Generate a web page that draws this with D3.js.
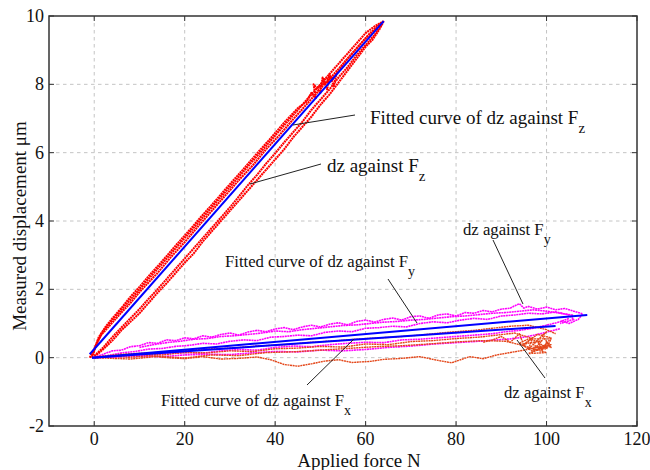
<!DOCTYPE html>
<html>
<head>
<meta charset="UTF-8">
<script src="https://d3js.org/d3.v7.min.js"></script>
<style>
  body { margin: 0; background: #fff; }
  svg text { font-family: "Liberation Serif", "Times New Roman", Times, serif; }
  .grid line { stroke: #c4c4c4; stroke-dasharray: 3.5,3.5; stroke-width: 1; }
  .trace { fill: none; stroke-dasharray: 2,0.6; stroke-linejoin: round; }
  .fit { fill: none; stroke: #0000ff; stroke-width: 2; }
  .leader { stroke: #222; stroke-width: 1; }
  .note { font-size: 16.7px; fill: #111; }
  .note.big { font-size: 19px; }
  .tick-label { font-size: 18px; fill: #111; }
  .axis-label { font-size: 19px; fill: #111; }
</style>
</head>
<body>
<div id="chart"></div>
<script>
// ticks
var xTicks = [0, 20, 40, 60, 80, 100, 120];
var yTicks = [-2, 0, 2, 4, 6, 8, 10];

// dz against Fz (red) - loading / unloading passes, [force N, dz um]
var fzTraceA = [[-1,0],[0,0.25],[1,0.55],[2,0.78],[3,0.95],[5,1.25],[7,1.55],[9,1.85],[11,2.15],[13,2.45],[16,2.9],[19,3.35],[22,3.8],[25,4.25],[28,4.7],[31,5.15],[34,5.6],[37,6.05],[40,6.5],[43,6.95],[46,7.4],[48,7.7],[50,8.0],[52,8.3],[54,8.6],[56,8.9],[58,9.2],[60,9.5],[62,9.7],[64,9.85]];
var fzTraceB = [[-0.5,0.05],[1,0.6],[2.5,0.9],[4,1.15],[6,1.45],[8,1.78],[10,2.07],[12,2.38],[15,2.82],[18,3.28],[21,3.72],[24,4.18],[27,4.62],[30,5.08],[33,5.52],[36,5.98],[39,6.42],[42,6.88],[45,7.3],[47,7.5],[48,7.75],[49,7.6],[48.5,8.0],[50,7.75],[50.5,8.2],[51.5,7.85],[52,8.3],[53,7.95],[53.5,8.3],[52.5,8.1],[51,8.05],[49.5,7.9],[51,8.15],[53,8.2],[54,8.4],[56,8.75],[58,9.05],[60,9.35],[62,9.6],[63.5,9.8]];
var fzTraceC = [[64,9.85],[63,9.6],[61.5,9.3],[60,9.1],[58,8.75],[56,8.4],[54,8.05],[52,7.7],[50,7.4],[48,7.05],[46,6.75],[44,6.45],[42,6.1],[40,5.8],[38,5.5],[36,5.2],[34,4.9],[32,4.6],[30,4.3],[28,4.0],[26,3.7],[24,3.4],[22,3.05],[20,2.78],[18,2.48],[16,2.18],[14,1.9],[12,1.6],[10,1.3],[8,1.05],[6,0.8],[4,0.5],[2,0.25],[0,0.02]];
var fzTraceD = [[63.5,9.75],[62,9.45],[60,9.15],[58,8.85],[56,8.5],[54,8.2],[52,7.85],[50,7.55],[48,7.25],[46,6.9],[44,6.6],[42,6.3],[40,5.98],[38,5.68],[36,5.35],[34,5.05],[32,4.72],[30,4.4],[28,4.1],[26,3.8],[24,3.5],[22,3.2],[20,2.9],[18,2.6],[16,2.3],[14,2.0],[12,1.72],[10,1.42],[8,1.15],[6,0.88],[4,0.6],[2,0.3],[0,0.05]];
var fzTraceE = [[-0.5,0],[0.5,0.4],[1.5,0.66],[3,0.88],[4.5,1.1],[6,1.32],[8,1.6],[10,1.92],[12,2.2],[14,2.48],[17,2.95],[20,3.38],[23,3.85],[26,4.3],[29,4.75],[32,5.2],[35,5.62],[38,6.1],[41,6.52],[44,6.98],[47,7.42],[49,7.72],[51,8.02],[53,8.3],[55,8.6],[57,8.9],[59,9.2],[61,9.5],[63,9.75]];

// dz against Fy (magenta)
var fyTraceA = [[0,0],[2,0.1],[4,0.2],[6,0.22],[8,0.32],[10,0.35],[12,0.44],[14,0.42],[16,0.52],[18,0.5],[20,0.58],[22,0.55],[24,0.64],[26,0.6],[28,0.68],[30,0.72],[32,0.66],[34,0.75],[36,0.8],[38,0.76],[40,0.84],[42,0.88],[44,0.82],[46,0.9],[48,0.95],[50,0.9],[52,0.98],[54,1.02],[56,0.96],[58,1.06],[60,1.1],[62,1.04],[64,1.12],[66,1.16],[68,1.1],[70,1.2],[72,1.22],[74,1.15],[76,1.25],[78,1.28],[80,1.22],[82,1.32],[84,1.3],[86,1.38],[88,1.34],[90,1.42],[92,1.45],[93,1.52],[94,1.58],[95,1.45],[96,1.5],[98,1.42],[100,1.48],[102,1.4],[104,1.44],[106,1.36],[108,1.28],[107,1.12],[105,1.0],[103,1.08]];
var fyTraceB = [[0,0.02],[3,0.06],[6,0.14],[9,0.18],[12,0.25],[15,0.27],[18,0.33],[21,0.36],[24,0.42],[27,0.4],[30,0.48],[33,0.52],[36,0.5],[39,0.6],[42,0.62],[45,0.66],[48,0.64],[51,0.74],[54,0.78],[57,0.76],[60,0.86],[63,0.88],[66,0.92],[69,0.9],[72,1.0],[75,1.05],[78,1.02],[81,1.1],[84,1.15],[87,1.12],[90,1.22],[93,1.25],[96,1.3],[99,1.28],[102,1.34],[105,1.25],[106,1.12],[103,1.0]];
var fyTraceC = [[0,0],[4,0.02],[8,0.08],[12,0.06],[16,0.12],[20,0.15],[24,0.13],[28,0.2],[32,0.24],[36,0.22],[40,0.3],[44,0.34],[48,0.32],[52,0.38],[56,0.42],[60,0.45],[64,0.44],[68,0.52],[72,0.54],[76,0.58],[80,0.62],[84,0.66],[88,0.7],[91,0.76],[94,0.8],[97,0.86],[100,0.95],[103,1.05],[105,1.15]];
var fyTraceD = [[0,0],[5,0.02],[10,0.04],[15,0.03],[20,0.08],[25,0.1],[30,0.09],[35,0.14],[40,0.18],[45,0.17],[50,0.22],[55,0.2],[60,0.24],[65,0.3],[70,0.34],[75,0.4],[80,0.44],[85,0.48],[89,0.52],[92,0.55],[95,0.6],[98,0.68],[101,0.78],[103,0.85]];
var fyTraceE = [[10,0.3],[13,0.38],[16,0.44],[19,0.48],[22,0.54],[25,0.56],[28,0.62],[31,0.64],[34,0.68],[37,0.72],[40,0.78],[43,0.76],[46,0.82],[49,0.86],[52,0.9],[55,0.94],[58,0.96],[61,1.0],[64,1.04],[67,1.06],[70,1.1],[73,1.12],[76,1.16],[79,1.2],[82,1.22],[85,1.26],[88,1.3],[91,1.32],[94,1.36],[97,1.4],[100,1.36],[103,1.3],[106,1.24]];

// dz against Fx (orange-red)
var fxTraceA = [[0,0],[4,0.04],[8,0.01],[12,0.06],[16,0.0],[20,-0.03],[24,0.03],[28,-0.04],[32,-0.02],[36,0.02],[39,-0.06],[42,-0.2],[45,-0.25],[48,-0.18],[51,-0.1],[54,-0.06],[57,-0.14],[61,-0.11],[64,-0.05],[68,-0.02],[72,0.03],[76,-0.08],[79,-0.15],[83,0.03],[86,-0.03],[89,0.08],[92,0.15],[95,0.22],[98,0.3],[101,0.32]];
var fxTraceB = [[0,0],[5,0.06],[10,0.1],[15,0.08],[20,0.15],[25,0.14],[30,0.2],[35,0.18],[40,0.26],[45,0.28],[50,0.33],[55,0.31],[60,0.4],[65,0.38],[70,0.47],[75,0.5],[80,0.56],[85,0.6],[89,0.66],[93,0.72],[96,0.6],[98,0.45],[100,0.3],[97,0.22],[99,0.5],[95,0.4],[98,0.68],[101,0.58],[99,0.25]];
var fxTraceC = [[0,0.02],[6,0.1],[12,0.14],[18,0.18],[24,0.25],[30,0.28],[36,0.34],[42,0.38],[48,0.45],[54,0.5],[60,0.56],[66,0.6],[72,0.66],[78,0.74],[84,0.8],[88,0.86],[92,0.92],[96,0.95],[100,0.82],[102,0.7]];
var fxTraceD = [[0,0],[8,-0.04],[14,0.04],[20,-0.01],[26,0.08],[32,0.06],[38,0.15],[44,0.17],[50,0.22],[56,0.27],[62,0.32],[68,0.35],[74,0.4],[80,0.46],[86,0.5],[91,0.48],[95,0.35],[98,0.22],[100,0.15],[96,0.12],[101,0.38],[97,0.3]];
var fxTraceE = [[86,0.45],[88,0.52],[90,0.62],[92,0.45],[94,0.7],[95,0.35],[97,0.6],[96,0.25],[98,0.5],[99,0.2],[100,0.45],[101,0.3],[99,0.65],[100,0.75],[97,0.4],[98,0.3],[100,0.25],[101,0.55],[96,0.55],[94,0.42],[97,0.18],[100,0.38]];

// fitted straight lines, end points
var fitFz = [[-1, 0.1], [64, 9.85]];
var fitFy = [[-0.5, 0], [109, 1.25]];
var fitFx = [[-0.5, 0], [102, 0.93]];

var W = 650, H = 470;
var plotL = 49, plotR = 637, plotT = 16, plotB = 426;

var x = d3.scaleLinear().domain([-10, 120]).range([plotL, plotR]);
var y = d3.scaleLinear().domain([-2, 10]).range([plotB, plotT]);

var svg = d3.select("#chart").append("svg")
    .attr("width", W)
    .attr("height", H);

// grid
var grid = svg.append("g").attr("class", "grid");
grid.selectAll(".gx").data(xTicks.filter(function(d){ return d < 120; }))
  .enter().append("line")
    .attr("x1", function(d){ return x(d); }).attr("x2", function(d){ return x(d); })
    .attr("y1", plotT).attr("y2", plotB);
grid.selectAll(".gy").data(yTicks.filter(function(d){ return d > -2 && d < 10; }))
  .enter().append("line")
    .attr("x1", plotL).attr("x2", plotR)
    .attr("y1", function(d){ return y(d); }).attr("y2", function(d){ return y(d); });

var line = d3.line().x(function(d){ return x(d[0]); }).y(function(d){ return y(d[1]); });

function trace(data, color, w) {
  svg.append("path").datum(data)
    .attr("class", "trace")
    .attr("stroke", color)
    .attr("stroke-width", w)
    .attr("d", line);
}

[fzTraceA, fzTraceB, fzTraceC, fzTraceD, fzTraceE].forEach(function(t){ trace(t, "#ff0000", 2.1); });
[fyTraceA, fyTraceB, fyTraceC, fyTraceD, fyTraceE].forEach(function(t){ trace(t, "#ff00ff", 1.6); });
[fxTraceA, fxTraceB, fxTraceC, fxTraceD, fxTraceE].forEach(function(t){ trace(t, "#e4471a", 1.4); });

[fitFz, fitFy, fitFx].forEach(function(f){
  svg.append("path").datum(f).attr("class", "fit").attr("d", line);
});

// frame + ticks (matlab box style, ticks inside)
var frame = svg.append("g");
frame.append("rect")
  .attr("x", plotL).attr("y", plotT)
  .attr("width", plotR - plotL).attr("height", plotB - plotT)
  .attr("fill", "none").attr("stroke", "#333").attr("stroke-width", 1.5);

xTicks.forEach(function(t){
  frame.append("line").attr("x1", x(t)).attr("x2", x(t)).attr("y1", plotB).attr("y2", plotB - 5).attr("stroke", "#333");
  frame.append("line").attr("x1", x(t)).attr("x2", x(t)).attr("y1", plotT).attr("y2", plotT + 5).attr("stroke", "#333");
  svg.append("text").attr("class", "tick-label")
    .attr("x", x(t)).attr("y", 445)
    .attr("text-anchor", "middle").text(t);
});
yTicks.forEach(function(t){
  frame.append("line").attr("x1", plotL).attr("x2", plotL + 5).attr("y1", y(t)).attr("y2", y(t)).attr("stroke", "#333");
  frame.append("line").attr("x1", plotR).attr("x2", plotR - 5).attr("y1", y(t)).attr("y2", y(t)).attr("stroke", "#333");
  svg.append("text").attr("class", "tick-label")
    .attr("x", 44).attr("y", y(t) + 6)
    .attr("text-anchor", "end").text(t);
});

svg.append("text").attr("class", "axis-label")
  .attr("x", 359).attr("y", 467)
  .attr("text-anchor", "middle").text("Applied force N");
svg.append("text").attr("class", "axis-label")
  .attr("transform", "translate(26,226) rotate(-90)")
  .attr("text-anchor", "middle").text("Measured displacement \u03bcm");

// annotations: text, subscript, leader line
var notes = [
  { text: "Fitted curve of dz against F", sub: "z", tx: 370, ty: 124, big: true, l: [355, 115, 293, 125] },
  { text: "dz against F", sub: "z", tx: 327, ty: 172, big: true, l: [321, 164, 250, 184] },
  { text: "dz against F", sub: "y", tx: 463, ty: 235, l: [493, 240, 523, 304] },
  { text: "Fitted curve of dz against F", sub: "y", tx: 225, ty: 267, l: [388, 279, 417, 323] },
  { text: "Fitted curve of dz against F", sub: "x", tx: 161, ty: 406, l: [307, 385, 354, 339] },
  { text: "dz against F", sub: "x", tx: 504, ty: 398, l: [545, 378, 517, 340] }
];

notes.forEach(function(n){
  svg.append("line").attr("class", "leader")
    .attr("x1", n.l[0]).attr("y1", n.l[1]).attr("x2", n.l[2]).attr("y2", n.l[3]);
  var t = svg.append("text").attr("class", n.big ? "note big" : "note").attr("x", n.tx).attr("y", n.ty);
  t.append("tspan").text(n.text);
  t.append("tspan").attr("dy", 9).attr("font-size", n.big ? "15px" : "14px").text(n.sub);
});
</script>
</body>
</html>
